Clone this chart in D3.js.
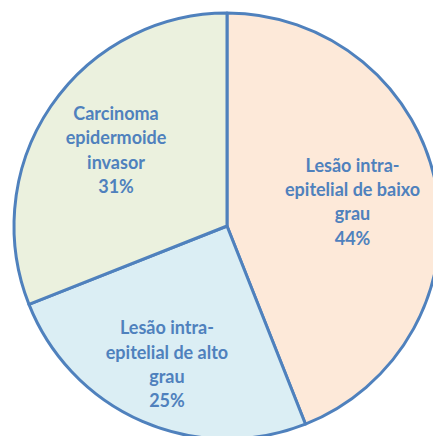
<!DOCTYPE html>
<html>
<head>
<meta charset="utf-8">
<script src="https://cdn.jsdelivr.net/npm/d3@7"></script>
<style>
  body { margin:0; background:#fff; overflow:hidden; }
  svg text { font-family: Lato, "Open Sans", sans-serif; font-weight:bold; }
</style>
</head>
<body>
<div id="chart"></div>
<script>
// data
const categories = ['Lesão intra-epitelial de baixo grau', 'Lesão intra-epitelial de alto grau', 'Carcinoma epidermoide invasor'];
const values = [44, 25, 31];
const labelLines = [
    ['Lesão intra-', 'epitelial de baixo', 'grau', '44%'],
    ['Lesão intra-', 'epitelial de alto', 'grau', '25%'],
    ['Carcinoma', 'epidermoide', 'invasor', '31%']
];
const fills = ['#FDE9D9', '#DBEEF4', '#EBF1DE'];

const CONSTANTS = {
    WIDTH:433,
    HEIGHT:436,
    CX:227,
    CY:226,
    RADIUS:213,
    STROKE:'#4F81BD',
    LINE_HEIGHT:24.3
};

// how far out each label sits, as a share of the radius
const labelRadius = [0.6, 0.71, 0.63];

function buildChart(){
    let svg = d3.select('#chart')
        .append('svg')
        .attr('width',CONSTANTS.WIDTH)
        .attr('height',CONSTANTS.HEIGHT);

    let pie = d3.pie().sort(null).value(d=>d);
    let arcs = pie(values);
    let arc = d3.arc().innerRadius(0).outerRadius(CONSTANTS.RADIUS);

    let g = svg.append('g')
        .attr('transform','translate(' + CONSTANTS.CX + ',' + CONSTANTS.CY + ')');

    g.selectAll('path')
        .data(arcs)
        .enter()
        .append('path')
        .attr('d',arc)
        .style('fill',(d,i)=>fills[i])
        .style('stroke',CONSTANTS.STROKE)
        .style('stroke-width',3)
        .style('stroke-linejoin','round');

    // labels
    arcs.forEach((d,i)=>{
        let r = CONSTANTS.RADIUS * labelRadius[i];
        let a = (d.startAngle + d.endAngle) / 2;
        let x = Math.sin(a) * r;
        let y = -Math.cos(a) * r;
        let lines = labelLines[i];
        let top = y - (lines.length - 1) * CONSTANTS.LINE_HEIGHT / 2;
        let t = g.append('text')
            .attr('text-anchor','middle')
            .style('fill',CONSTANTS.STROKE)
            .style('font-size','18px');
        lines.forEach((line,j)=>{
            t.append('tspan')
                .attr('x',x)
                .attr('y',top + j * CONSTANTS.LINE_HEIGHT + 6)
                .text(line);
        });
    });
}

buildChart();
</script>
</body>
</html>
